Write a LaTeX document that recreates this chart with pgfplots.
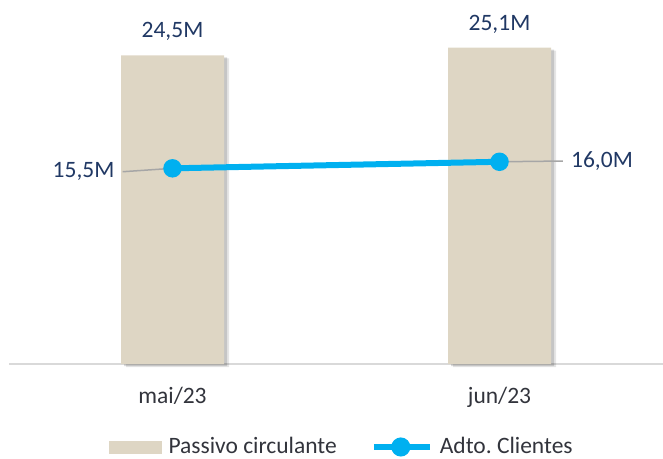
\documentclass[border=0pt]{standalone}
\usepackage{fontspec}
\setmainfont{Carlito}
\usepackage{pgfplots}
\pgfplotsset{compat=1.18}
\definecolor{barbeige}{RGB}{222,214,196}
\definecolor{lineblue}{RGB}{0,176,240}
\definecolor{labelnavy}{RGB}{32,56,100}
\definecolor{textgray}{RGB}{50,52,60}
\definecolor{leadgray}{RGB}{166,166,166}
\definecolor{basegray}{RGB}{217,217,217}
\newcommand\chartfont{\fontsize{23.5bp}{28bp}\selectfont}
\pgfplotsset{/pgf/number format/assume math mode=true}

\begin{document}
\frenchspacing
\chartfont
\begin{tikzpicture}
\useasboundingbox (0,0) rectangle (663bp,459bp);
\begin{axis}[
    at={(9bp,95bp)}, anchor=south west,
    scale only axis, width=654bp, height=364bp,
    xmin=-0.5, xmax=1.5, ymin=0, ymax=28.89,
    clip=false,
    axis x line*=bottom, axis y line=none,
    x axis line style={draw=basegray, line width=1.5bp, -},
    xtick={0,1}, xticklabels={mai/23,jun/23},
    major tick length=0pt,
    xticklabel style={text=textgray, font=\chartfont, anchor=base, yshift=-39bp},
    legend columns=2,
    legend style={at={(0.509,-0.228)}, anchor=center, draw=none, fill=none,
        font=\chartfont, text=textgray,
        /tikz/every odd column/.append style={column sep=5bp},
        /tikz/every even column/.append style={column sep=32bp}},
]
% Passivo circulante
\addplot[ybar, bar width=103bp, fill=barbeige, draw=none, forget plot,
    preaction={fill=black, opacity=0.10, transform canvas={xshift=5bp, yshift=-3bp}},
    preaction={fill=black, opacity=0.14, transform canvas={xshift=3bp, yshift=-2bp}},
    nodes near coords={\pgfmathprintnumber[fixed, fixed zerofill, precision=1, use comma]{\pgfplotspointmeta}M},
    every node near coord/.append style={anchor=base, yshift=17.5bp, text=labelnavy, font=\chartfont}]
    coordinates {(0,24.5) (1,25.1)};
\addlegendimage{legend image code/.code={\fill[barbeige] (0bp,-6bp) rectangle (52bp,6bp);}}
\addlegendentry{Passivo circulante}
% Adto. Clientes
\addplot[lineblue, line width=6bp, mark=*, mark size=6.2bp, mark options={solid, draw=none, fill=lineblue},
    legend image code/.code={\draw[lineblue, line width=6bp] (0bp,0bp) -- (56bp,0bp);
        \fill[lineblue] (27bp,0bp) circle (6.5bp);}]
    coordinates {(0,15.53) (1,16.05)};
\addlegendentry{Adto. Clientes}
% leader lines
\addplot[leadgray, line width=1.5bp, forget plot] coordinates {(-0.1525,15.26) (0,15.53)};
\addplot[leadgray, line width=1.5bp, forget plot] coordinates {(1,16.05) (1.194,16.11)};
\node[anchor=east, text=labelnavy, inner sep=0pt, xshift=-8bp, font=\chartfont] at (axis cs:-0.1525,15.26) {15,5M};
\node[anchor=west, text=labelnavy, inner sep=0pt, xshift=8bp, font=\chartfont] at (axis cs:1.194,16.11) {16,0M};
\end{axis}
\end{tikzpicture}
\end{document}
